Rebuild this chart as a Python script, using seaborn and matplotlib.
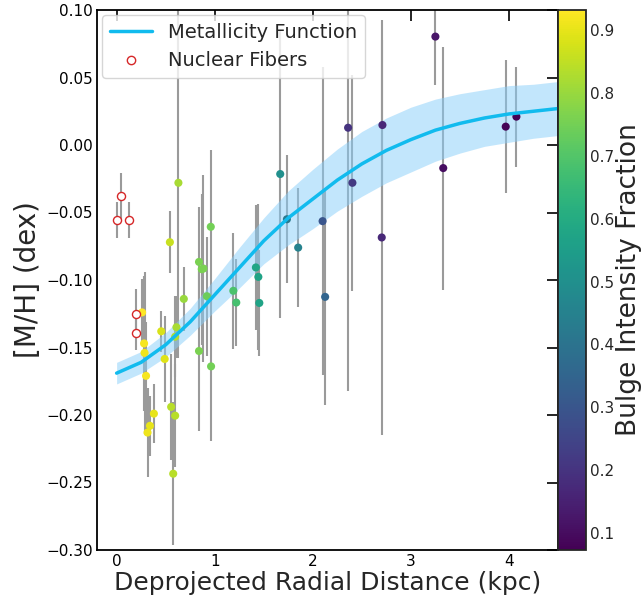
import numpy as np
import pandas as pd
import matplotlib
matplotlib.use("Agg")
import matplotlib.pyplot as plt
import seaborn as sns
from matplotlib.colors import Normalize
from matplotlib.lines import Line2D

# fibre measurements: radius (kpc), [M/H] (dex), error, bulge fraction
radius = [0.26, 0.28, 0.285, 0.30, 0.315, 0.34, 0.38, 0.455, 0.49, 0.543,
          0.556, 0.577, 0.597, 0.597, 0.61, 0.63, 0.685, 0.84, 0.84, 0.868,
          0.885, 0.92, 0.96, 0.963, 1.19, 1.22, 1.42, 1.445, 1.455, 1.668,
          1.736, 1.851, 2.10, 2.126, 2.36, 2.404, 2.71, 2.703, 3.25, 3.33,
          3.967, 4.076]
metallicity = [-0.124, -0.147, -0.154, -0.171, -0.213, -0.208, -0.199, -0.138, -0.1585, -0.072,
               -0.194, -0.2435, -0.2005, -0.142, -0.135, -0.028, -0.114, -0.0866, -0.1526, -0.092,
               -0.0915, -0.112, -0.0606, -0.164, -0.108, -0.1167, -0.0907, -0.0977, -0.117, -0.0215,
               -0.055, -0.076, -0.0564, -0.1125, 0.0128, -0.028, 0.0148, -0.0685, 0.0803, -0.0171,
               0.0136, 0.021]
met_err = [0.025, 0.050, 0.060, 0.040, 0.033, 0.022, 0.022, 0.015, 0.032, 0.023,
           0.039, 0.053, 0.038, 0.030, 0.023, 0.130, 0.024, 0.041, 0.059, 0.056,
           0.069, 0.044, 0.057, 0.055, 0.043, 0.032, 0.046, 0.054, 0.039, 0.107,
           0.0475, 0.044, 0.114, 0.080, 0.195, 0.080, 0.078, 0.146, 0.036, 0.090,
           0.049, 0.037]
bulge_frac = [0.932, 0.92, 0.91, 0.92, 0.91, 0.90, 0.90, 0.88, 0.89, 0.86,
              0.84, 0.84, 0.84, 0.83, 0.82, 0.82, 0.80, 0.76, 0.76, 0.76,
              0.76, 0.74, 0.75, 0.75, 0.69, 0.68, 0.58, 0.57, 0.57, 0.50,
              0.42, 0.45, 0.30, 0.35, 0.20, 0.22, 0.17, 0.17, 0.12, 0.10,
              0.08, 0.073]

# nuclear fibres
nuc_radius = [0.007, 0.048, 0.125, 0.20, 0.20]
nuc_met = [-0.0556, -0.038, -0.0556, -0.125, -0.139]
nuc_err = [0.0136, 0.017, 0.0136, 0.018, 0.013]

# metallicity function and its uncertainty band
fit_r = [0.0, 0.25, 0.5, 0.75, 1.0, 1.25, 1.5, 1.75, 2.0, 2.25,
         2.5, 2.75, 3.0, 3.25, 3.5, 3.75, 4.0, 4.25, 4.5]
fit_met = [-0.169, -0.161, -0.148, -0.131, -0.111, -0.091, -0.071, -0.054, -0.040, -0.026,
           -0.014, -0.004, 0.004, 0.011, 0.016, 0.020, 0.023, 0.025, 0.027]
fit_err = [0.008, 0.008, 0.009, 0.010, 0.012, 0.015, 0.017, 0.020, 0.022, 0.023,
           0.024, 0.024, 0.024, 0.023, 0.022, 0.021, 0.021, 0.020, 0.020]

x_ticks = [0, 1, 2, 3, 4]
y_ticks = [-0.30, -0.25, -0.20, -0.15, -0.10, -0.05, 0.00, 0.05, 0.10]
cb_ticks = [0.1, 0.2, 0.3, 0.4, 0.5, 0.6, 0.7, 0.8, 0.9]

df = pd.DataFrame({"r": radius, "met": metallicity, "err": met_err, "bulge": bulge_frac})
fit = pd.DataFrame({"r": fit_r, "met": fit_met, "err": fit_err})

sns.set_style("white")
plt.rcParams["font.family"] = ["DejaVu Sans"]

fig = plt.figure(figsize=(6.41, 5.97), dpi=100)
ax = fig.add_axes([97 / 641, 47 / 597, 461 / 641, 540 / 597])
cax = fig.add_axes([558 / 641, 47 / 597, 28 / 641, 540 / 597])

norm = Normalize(vmin=min(bulge_frac), vmax=max(bulge_frac))

ax.errorbar(df["r"], df["met"], yerr=df["err"], fmt="none", ecolor="#9a9a9a",
            elinewidth=1.5, capsize=0, zorder=1)
ax.errorbar(nuc_radius, nuc_met, yerr=nuc_err, fmt="none", ecolor="#9a9a9a",
            elinewidth=1.5, capsize=0, zorder=1)

ax.fill_between(fit["r"], fit["met"] - fit["err"], fit["met"] + fit["err"],
                color="#87CEFA", alpha=0.5, linewidth=0, zorder=2)

sns.scatterplot(data=df, x="r", y="met", hue="bulge", palette="viridis", hue_norm=norm,
                s=34, linewidth=0, legend=False, ax=ax, zorder=3)
ax.scatter(nuc_radius, nuc_met, s=34, facecolors="white", edgecolors="#d62728",
           linewidths=1.0, zorder=3)

sns.lineplot(data=fit, x="r", y="met", color="#11BBEE", linewidth=2.5, ax=ax, zorder=4)

ax.set_xlim(-0.2, 4.5)
ax.set_ylim(-0.30, 0.10)
ax.set_xticks(x_ticks)
ax.set_yticks(y_ticks)
ax.set_yticklabels([f"{v:.2f}".replace("-", "\u2212") if v != 0 else "0.00" for v in y_ticks])
ax.tick_params(direction="in", length=8, width=1.2, top=True, right=True,
               labelsize=11, colors="black", pad=3)
for s in ax.spines.values():
    s.set_color("black")
    s.set_linewidth(1.3)
ax.set_xlabel("Deprojected Radial Distance (kpc)", fontsize=18, labelpad=1)
ax.set_ylabel("[M/H] (dex)", fontsize=20, labelpad=3)

handles = [Line2D([0], [0], color="#11BBEE", lw=2.5),
           Line2D([0], [0], marker="o", ls="none", markersize=6,
                  markerfacecolor="white", markeredgecolor="#d62728")]
ax.legend(handles, ["Metallicity Function", "Nuclear Fibers"], loc="upper left",
          fontsize=14, frameon=True, borderaxespad=0.25, handlelength=2.2)

sm = plt.cm.ScalarMappable(cmap="viridis", norm=norm)
cb = fig.colorbar(sm, cax=cax)
cb.set_ticks(cb_ticks)
cb.ax.tick_params(direction="in", length=8, width=1.2, labelsize=11, pad=3)
cb.set_label("Bulge Intensity Fraction", fontsize=19, labelpad=1)
cb.outline.set_linewidth(1.3)

fig.savefig("out.png", dpi=100)
